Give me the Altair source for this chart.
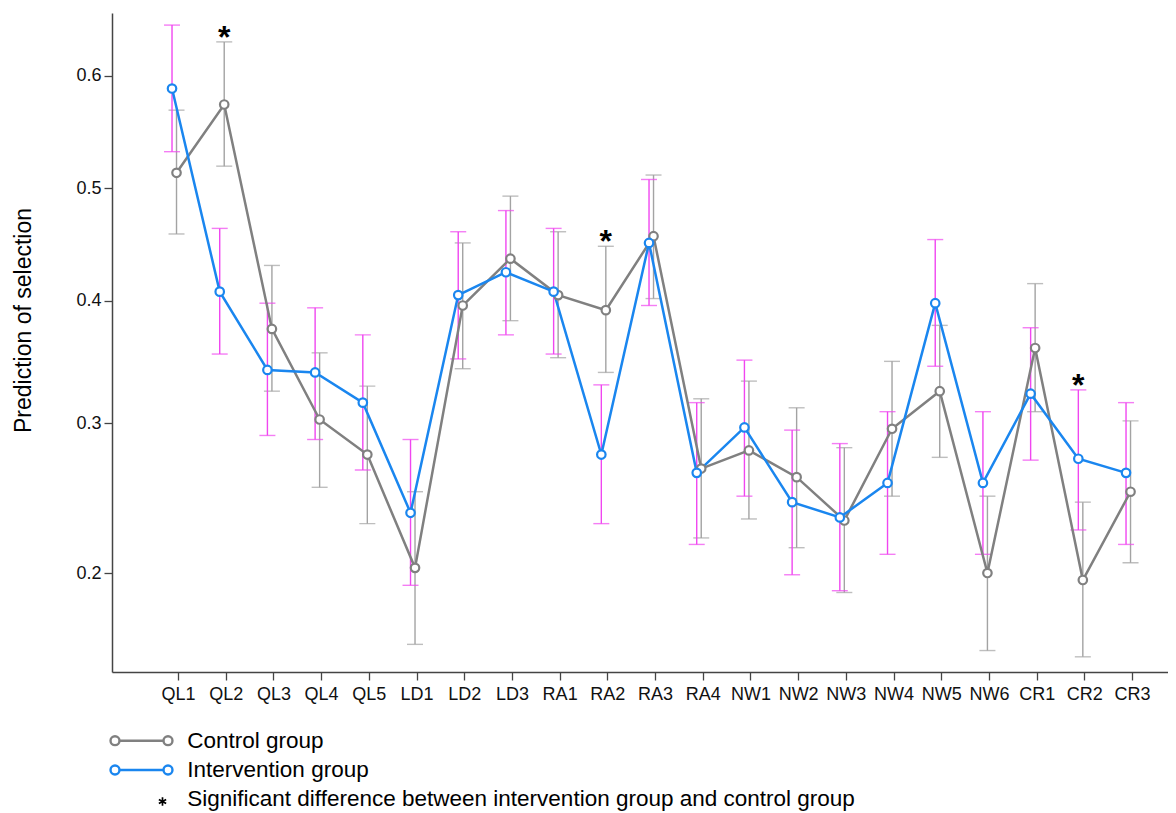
import math
import pandas as pd
import altair as alt

categories = ["QL1", "QL2", "QL3", "QL4", "QL5", "LD1", "LD2", "LD3", "RA1", "RA2", "RA3",
              "RA4", "NW1", "NW2", "NW3", "NW4", "NW5", "NW6", "CR1", "CR2", "CR3"]

control_mean = [0.514, 0.575, 0.376, 0.303, 0.277, 0.203, 0.396, 0.437, 0.405, 0.392, 0.457,
                0.267, 0.280, 0.261, 0.232, 0.296, 0.325, 0.200, 0.360, 0.196, 0.251]
control_low = [0.459, 0.520, 0.325, 0.254, 0.230, 0.162, 0.343, 0.383, 0.352, 0.340, 0.402,
               0.221, 0.233, 0.215, 0.189, 0.248, 0.275, 0.159, 0.309, 0.156, 0.206]
control_high = [0.570, 0.629, 0.431, 0.356, 0.329, 0.251, 0.451, 0.493, 0.461, 0.448, 0.512,
                0.319, 0.333, 0.312, 0.282, 0.349, 0.379, 0.248, 0.415, 0.244, 0.302]

interv_mean = [0.589, 0.408, 0.342, 0.340, 0.316, 0.237, 0.405, 0.425, 0.408, 0.277, 0.451,
               0.264, 0.297, 0.244, 0.234, 0.257, 0.398, 0.257, 0.323, 0.274, 0.264]
interv_low = [0.533, 0.355, 0.291, 0.288, 0.266, 0.193, 0.351, 0.371, 0.355, 0.230, 0.396,
              0.217, 0.248, 0.199, 0.190, 0.211, 0.345, 0.211, 0.273, 0.226, 0.217]
interv_high = [0.643, 0.464, 0.398, 0.394, 0.371, 0.288, 0.461, 0.480, 0.464, 0.330, 0.508,
               0.316, 0.350, 0.295, 0.285, 0.309, 0.454, 0.309, 0.377, 0.326, 0.316]

significant = ["QL2", "RA2", "CR2"]

y_ticks = [0.2, 0.3, 0.4, 0.5, 0.6]

FONT = "Liberation Sans"
GRAY_LINE = "#808080"
GRAY_BAR = "#a3a3a3"
BLUE = "#1a86ef"
MAGENTA = "#f046f0"
ASTERISK = "M0,-1L0,1M-0.87,-0.5L0.87,0.5M-0.87,0.5L0.87,-0.5"

groups = {
    "Control": (control_mean, control_low, control_high),
    "Intervention": (interv_mean, interv_low, interv_high),
}

rows = []
for g, (m, lo, hi) in groups.items():
    for i, c in enumerate(categories):
        rows.append({"cat": c, "idx": i, "group": g, "p": m[i], "lo": lo[i], "hi": hi[i]})
df = pd.DataFrame(rows)

# star sits above the higher of the two upper limits
star_rows = []
for c in significant:
    i = categories.index(c)
    g = "Control" if control_high[i] >= interv_high[i] else "Intervention"
    star_rows.append({"cat": c, "idx": i, "group": g,
                      "hi": max(control_high[i], interv_high[i])})
stars = pd.DataFrame(star_rows)


def logit(v):
    return math.log(v / (1 - v))


label_array = "[" + ",".join("'%s'" % c for c in categories) + "]"

x_scale = alt.Scale(domain=[-1.384, 20.754], nice=False, zero=False)
x_axis = alt.Axis(values=list(range(len(categories))), labelExpr=label_array + "[datum.value]",
                  title=None, grid=False, tickSize=8, labelPadding=5, labelFontSize=18,
                  labelColor="#111", domainColor="#444", tickColor="#444",
                  domainWidth=1.5, tickWidth=1.3, labelFont=FONT)

y_scale = alt.Scale(domain=[-1.743, 0.632], nice=False, zero=False)
y_axis = alt.Axis(values=[logit(v) for v in y_ticks],
                  labelExpr="format(1/(1+exp(-datum.value)), '.1f')",
                  title="Prediction of selection", titleFontSize=23, titleFontWeight="normal",
                  titleColor="#000", titleFont=FONT, titleX=-89, titleY=307, titleAngle=270,
                  titleBaseline="middle", titleAlign="center",
                  grid=False, tickSize=8, labelPadding=3, labelFontSize=18, labelColor="#111",
                  domainColor="#444", tickColor="#444", domainWidth=1.5, tickWidth=1.3,
                  labelFont=FONT)


def X():
    return alt.X("idx:Q", scale=x_scale, axis=x_axis)


def Y(f):
    return alt.Y(f + ":Q", scale=y_scale, axis=y_axis)


calc = dict(m="log(datum.p/(1-datum.p))", l="log(datum.lo/(1-datum.lo))",
            h="log(datum.hi/(1-datum.hi))")

styles = {
    "Control": dict(line=GRAY_LINE, bar=GRAY_BAR, off=-1.5),
    "Intervention": dict(line=BLUE, bar=MAGENTA, off=-6),
}

bar_layers, line_layers, point_layers, star_layers = [], [], [], []
for g, st in styles.items():
    base = alt.Chart(df).transform_filter(alt.datum.group == g).transform_calculate(**calc)
    bar_layers.append(base.mark_rule(color=st["bar"], strokeWidth=1.4, xOffset=st["off"]).encode(
        x=X(), y=Y("l"), y2=alt.Y2("h:Q")))
    bar_layers.append(base.mark_tick(color=st["bar"], size=16, thickness=1.4, orient="horizontal",
                                     xOffset=st["off"]).encode(x=X(), y=Y("l")))
    bar_layers.append(base.mark_tick(color=st["bar"], size=16, thickness=1.4, orient="horizontal",
                                     xOffset=st["off"]).encode(x=X(), y=Y("h")))
    line_layers.append(base.mark_line(color=st["line"], strokeWidth=2.5, xOffset=st["off"]).encode(
        x=X(), y=Y("m")))
    point_layers.append(base.mark_point(shape="circle", filled=False, fill="white", fillOpacity=1,
                                        stroke=st["line"], strokeWidth=2.2, size=72, opacity=1,
                                        xOffset=st["off"]).encode(x=X(), y=Y("m")))
    sbase = alt.Chart(stars).transform_filter(alt.datum.group == g).transform_calculate(
        h="log(datum.hi/(1-datum.hi))")
    star_layers.append(sbase.mark_text(text="*", fontSize=32, fontWeight="bold", font=FONT,
                                       color="#000", baseline="alphabetic", align="center",
                                       dy=6, xOffset=st["off"]).encode(x=X(), y=Y("h")))

one = pd.DataFrame({"k": [0]})
legend_layers = []
legend_items = [("Control group", GRAY_LINE, 727.7, 734.5),
                ("Intervention group", BLUE, 757.0, 763.8)]
for label, col, ly, tb in legend_items:
    legend_layers.append(alt.Chart(one).mark_rule(color=col, strokeWidth=2.5).encode(
        x=alt.value(3), x2=alt.value(56), y=alt.value(ly)))
    for px in (3, 56):
        legend_layers.append(alt.Chart(one).mark_point(
            shape="circle", filled=False, fill="white", fillOpacity=1, stroke=col,
            strokeWidth=2.4, size=80, opacity=1).encode(x=alt.value(px), y=alt.value(ly)))
    legend_layers.append(alt.Chart(one).mark_text(
        text=label, fontSize=22.5, font=FONT, color="#000", align="left",
        baseline="alphabetic").encode(x=alt.value(75.3), y=alt.value(tb)))
legend_layers.append(alt.Chart(one).mark_point(
    shape=ASTERISK, filled=False, stroke="#000", strokeWidth=1.7, size=70, opacity=1).encode(
    x=alt.value(50.5), y=alt.value(788.5)))
legend_layers.append(alt.Chart(one).mark_text(
    text="Significant difference between intervention group and control group", fontSize=22.5,
    font=FONT, color="#000", align="left", baseline="alphabetic").encode(
    x=alt.value(75.3), y=alt.value(793)))

chart = alt.layer(*bar_layers, *line_layers, *point_layers, *star_layers, *legend_layers).properties(
    width=1056, height=659,
    autosize=alt.AutoSizeParams(type="none"),
    padding={"left": 104, "top": 5, "right": 0, "bottom": 141},
).configure(font=FONT, background="white").configure_view(stroke=None)

chart.save("out.html", embed_options={"renderer": "svg", "actions": False})
